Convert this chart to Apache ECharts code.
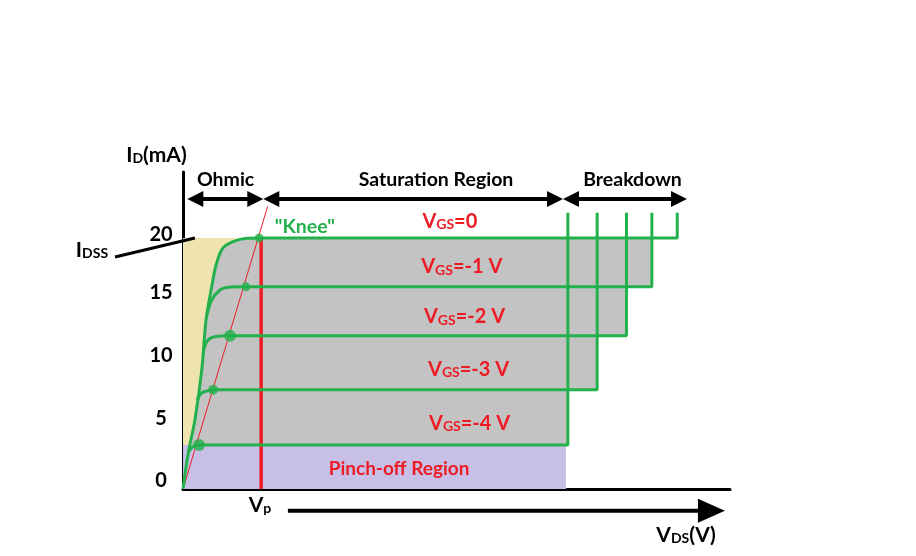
<!DOCTYPE html>
<html><head><meta charset="utf-8">
<script src="https://cdn.jsdelivr.net/npm/echarts@6/dist/echarts.min.js"></script>
<style>html,body{margin:0;padding:0;background:#fff}#c{width:916px;height:556px}</style>
</head><body><div id="c"></div>
<script>
// ---------------- data ----------------
const vgsNames = ['0', '-1 V', '-2 V', '-3 V', '-4 V'];
const satCurrent = [20, 16.1, 12.2, 7.9, 3.5];          // mA, flat part of each curve
const breakdownV = [25.3, 24.0, 22.7, 21.2, 19.7];      // VDS where breakdown rises
const breakdownTop = 22.0;
const kneeV = [3.9, 3.22, 2.41, 1.54, 0.82];
const curveVgs0 = [[0,0],[0.27,2.87],[0.61,5.5],[0.96,9.48],[1.18,13.46],[1.47,16.11],[1.72,18.0],[2.05,19.2],[2.56,19.7],[3.26,19.97],[3.9,20]];
const curveVgs1 = [[1.22,13.8],[1.47,15.05],[1.89,15.85],[2.3,16.07],[3.22,16.1]];
const curveVgs2 = [[1.03,10.8],[1.21,11.73],[1.54,12.1],[2.41,12.2]];
const curveVgs3 = [[0.73,7.1],[0.96,7.65],[1.54,7.9]];
const curveVgs4 = [[0.3,3.0],[0.51,3.37],[0.82,3.5]];
const vp = 4.0;
const kneeLocus = [[0,0],[4.33,22.5]];
const yTicks = [0, 5, 10, 15, 20];
const pinchOffEnd = 19.6;

// -------------- annotation anchors (data coords) --------------
const regionArrows = [[0.22, 4.11], [4.11, 19.45], [19.45, 25.8]];
const regionArrowLevel = 23.1;
const regionNames = ['Ohmic', 'Saturation Region', 'Breakdown'];
const regionNamePos = [[2.18, 24.65], [12.95, 24.61], [23.01, 24.61]];
const vgsLabelPos = [[13.66, 21.27], [14.27, 17.68], [14.41, 13.7], [14.62, 9.48], [14.67, 5.18]];
const vdsArrow = [[5.37, -1.73], [27.74, -1.73]];
const idssPointer = [[-3.48, 18.48], [0.61, 19.99]];

// -------------- styles --------------
const FONT = 'Lato, "Open Sans", sans-serif';
const RED = '#ed1c24', GREEN = '#22b14c';
const kneeDotSize = [9, 9, 12, 10, 12];
const curves = [curveVgs0, curveVgs1, curveVgs2, curveVgs3, curveVgs4];

function interpX(curve, y) {
  for (let i = 1; i < curve.length; i++) {
    const a = curve[i-1], b = curve[i];
    if ((a[1] - y) * (b[1] - y) <= 0) return a[0] + (b[0]-a[0]) * (y - a[1]) / (b[1]-a[1]);
  }
  return curve[0][0];
}

function renderRegions(params, api) {
  const P = p => api.coord(p);
  const rect = (a, b, fill) => {
    const p1 = P(a), p2 = P(b);
    return {type:'rect', shape:{x:Math.min(p1[0],p2[0]), y:Math.min(p1[1],p2[1]), width:Math.abs(p2[0]-p1[0]), height:Math.abs(p2[1]-p1[1])}, style:{fill}};
  };
  const low = satCurrent[satCurrent.length-1];
  const pts = [[interpX(curveVgs0, low), low]];
  curveVgs0.forEach(p => { if (p[1] > low) pts.push(p); });
  for (let i = 1; i < satCurrent.length; i++) {
    pts.push([breakdownV[i], satCurrent[i-1]]);
    pts.push([breakdownV[i], satCurrent[i]]);
  }
  return {type:'group', children:[
    rect([0, low], [vp, satCurrent[0]], '#efe4b0'),
    {type:'polygon', shape:{points: pts.map(P)}, style:{fill:'#c3c3c3'}},
    rect([0, 0], [pinchOffEnd, low], '#c8bfe7')
  ]};
}

function head(tip, dir, L, H) {
  return {type:'polygon', shape:{points:[[tip[0], tip[1]], [tip[0]-dir*L, tip[1]-H], [tip[0]-dir*L, tip[1]+H]]}, style:{fill:'#000'}};
}

function txt(pos, text, size, color, rich) {
  const o = {type:'text', x:pos[0], y:pos[1], style:{text, fill:color, fontSize:size, fontWeight:'bold', fontFamily:FONT, align:'center', verticalAlign:'middle'}};
  if (rich) o.style.rich = rich;
  return o;
}

function renderAnnotations(params, api) {
  const P = p => api.coord(p);
  const ch = [];
  regionArrows.forEach(r => {
    const a = P([r[0], regionArrowLevel]), b = P([r[1], regionArrowLevel]);
    ch.push({type:'line', shape:{x1:a[0]+8, y1:a[1], x2:b[0]-8, y2:b[1]}, style:{stroke:'#000', lineWidth:4}});
    ch.push(head(a, -1, 16, 8));
    ch.push(head(b, 1, 16, 8));
  });
  regionNames.forEach((n, i) => ch.push(txt(P(regionNamePos[i]), n, 19.5, '#000')));
  // VDS arrow
  const va = P(vdsArrow[0]), vb = P(vdsArrow[1]);
  ch.push({type:'line', shape:{x1:va[0], y1:va[1], x2:vb[0]-10, y2:vb[1]}, style:{stroke:'#000', lineWidth:4}});
  ch.push(head(vb, 1, 27, 12));
  // IDSS pointer
  const ia = P(idssPointer[0]), ib = P(idssPointer[1]);
  ch.push({type:'line', shape:{x1:ia[0], y1:ia[1], x2:ib[0], y2:ib[1]}, style:{stroke:'#000', lineWidth:3}});
  const sub = (big, small, color) => ({
    b:{fontSize:big, fontWeight:'bold', fontFamily:FONT, fill:color, verticalAlign:'bottom', lineHeight:big},
    s:{fontSize:small, fontWeight:'bold', fontFamily:FONT, fill:color, verticalAlign:'bottom', lineHeight:small + 1}
  });
  ch.push(txt(P([-4.66, 19.04]), '{b|I}{s|DSS}', 20, '#000', sub(21, 14, '#000')));
  ch.push(txt(P([-1.36, 26.6]), '{b|I}{s|D}{b|(mA)}', 20, '#000', sub(21, 14, '#000')));
  ch.push(txt(P([3.94, -1.27]), '{b|V}{s|p}', 20, '#000', sub(21, 14, '#000')));
  ch.push(txt(P([25.75, -3.66]), '{b|V}{s|DS}{b|(V)}', 20, '#000', sub(21, 14, '#000')));
  ch.push(txt(P([6.24, 20.87]), '"Knee"', 19.5, GREEN));
  ch.push(txt(P([11.06, 1.59]), 'Pinch-off Region', 19, RED));
  vgsNames.forEach((n, i) => {
    ch.push(txt(P(vgsLabelPos[i]), '{b|V}{s|GS}{b|=' + n + '}', 20, RED, sub(20, 14, RED)));
  });
  return {type:'group', children:ch};
}

const series = [
  {type:'custom', renderItem:renderRegions, data:[0], z:1, clip:false, silent:true},
  {type:'line', data:kneeLocus, symbol:'none', lineStyle:{color:RED, width:1}, z:2, silent:true},
  {type:'line', data:[[vp, 0], [vp, satCurrent[0]]], symbol:'none', lineStyle:{color:RED, width:3.5}, z:3, silent:true}
];
curves.forEach((c, i) => {
  series.push({type:'line', data:c, smooth:0.35, symbol:'none', lineStyle:{color:GREEN, width:3}, z:4, silent:true});
  series.push({type:'line', data:[[kneeV[i], satCurrent[i]], [breakdownV[i], satCurrent[i]], [breakdownV[i], breakdownTop]], symbol:'none', lineStyle:{color:GREEN, width:3}, z:4, silent:true});
});
series.push({type:'scatter', data:kneeV.map((x, i) => [x, satCurrent[i]]), symbolSize:(v, p) => kneeDotSize[p.dataIndex], itemStyle:{color:GREEN}, z:5, silent:true});
series.push({type:'custom', renderItem:renderAnnotations, data:[0], z:6, clip:false, silent:true});

const tickFont = {color:'#000', fontSize:20, fontWeight:'bold', fontFamily:FONT};
const chart = echarts.init(document.getElementById('c'));
chart.setOption({
  animation:false,
  backgroundColor:'#fff',
  grid:{left:183, right:186, top:172, bottom:67},
  xAxis:{type:'value', min:0, max:28, axisLine:{lineStyle:{color:'#000', width:3}}, axisTick:{show:false}, axisLabel:{show:false}, splitLine:{show:false}},
  yAxis:{type:'value', min:0, max:25.25, interval:5,
    axisLine:{show:true, lineStyle:{color:'#000', width:3}}, axisTick:{show:false}, splitLine:{show:false},
    axisLabel:Object.assign({margin:22, align:'center', verticalAlign:'middle',
      rich:{a:Object.assign({padding:[0,0,16,0]}, tickFont), t:Object.assign({padding:[0,0,6,0]}, tickFont)},
      formatter: v => yTicks.indexOf(v) < 0 ? '' : (v === yTicks[yTicks.length-1] ? '{t|' + v + '}' : '{a|' + v + '}')}, tickFont)},
  series
});
</script></body></html>
